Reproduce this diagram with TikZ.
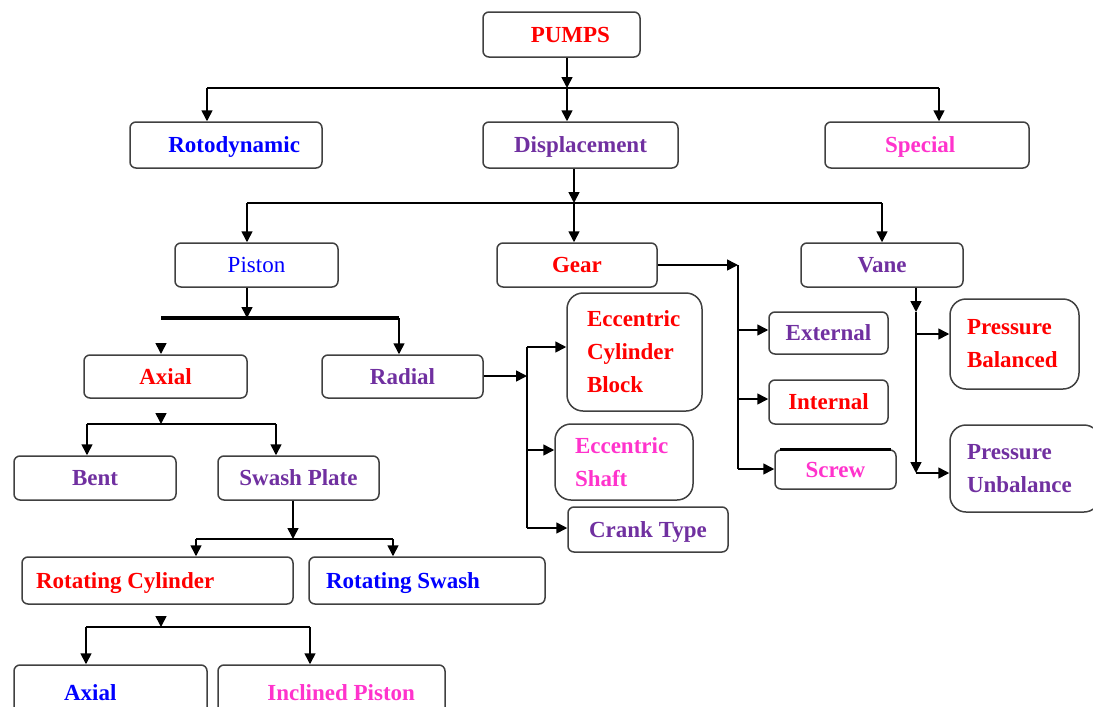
\documentclass[tikz,border=0pt]{standalone}
\usepackage{fontspec}
\setmainfont{Liberation Serif}
\usetikzlibrary{arrows.meta}
\definecolor{pumpred}{RGB}{255,0,0}
\definecolor{pumpblue}{RGB}{0,0,255}
\definecolor{pumppurple}{RGB}{112,48,160}
\definecolor{pumpmagenta}{RGB}{255,51,204}
\definecolor{boxgray}{RGB}{64,64,64}
\newcommand\lbl{\fontsize{11.5}{16.5}\selectfont\bfseries}
\tikzset{
  box/.style={draw=boxgray, line width=0.75pt, rounded corners=3pt, inner sep=0pt,
    minimum height=22pt, text depth=0pt, font=\lbl},
  tallbox/.style={box, text depth=, rounded corners=8pt, align=flush left},
  link/.style={line width=0.8pt},
  arr/.style={link, -{Triangle[length=5.5pt,width=5.5pt]}},
}
\begin{document}
\begin{tikzpicture}[x=0.5pt,y=-0.5pt]
\useasboundingbox (0,0) rectangle (1093,707);
% boxes
\node[box, text=pumpred, minimum height=22.5pt, align=flush right, inner xsep=15pt, text width=48.5pt] (pumps) at (561.5,34.5) {PUMPS};
\node[box, text=pumpblue, minimum height=23pt, align=flush right, inner xsep=11pt, text width=74pt] (roto) at (226,145) {Rotodynamic};
\node[box, text=pumppurple, minimum width=97.5pt, minimum height=23pt] (disp) at (580.5,145) {Displacement};
\node[box, text=pumpmagenta, minimum height=23pt, align=flush left, inner xsep=30pt, text width=42pt] (spec) at (927,145) {Special};
\node[box, text=pumpblue, minimum width=81.5pt, font=\fontsize{11.5}{16.5}\selectfont] (piston) at (256.5,265) {Piston};
\node[box, text=pumpred, minimum width=80pt] (gear) at (577,265) {Gear};
\node[box, text=pumppurple, minimum width=81pt] (vane) at (882,265) {Vane};
\node[box, text=pumpred, minimum width=81.5pt, minimum height=21.5pt] (axial) at (165.5,376.5) {Axial};
\node[box, text=pumppurple, minimum width=80.5pt, minimum height=21.5pt] (radial) at (402.5,376.5) {Radial};
\node[box, text=pumppurple, minimum width=81pt] (bent) at (95,478) {Bent};
\node[box, text=pumppurple, minimum width=80.5pt] (swash) at (298.5,478) {Swash Plate};
\node[box, text=pumpred, minimum height=23.5pt, align=flush left, inner xsep=7pt, text width=121.5pt] (rotcyl) at (157.5,580.5) {Rotating Cylinder};
\node[box, text=pumpblue, minimum height=23.5pt, align=flush left, inner xsep=8.5pt, text width=101pt] (rotsw) at (427,580.5) {Rotating Swash};
\node[box, text=pumpblue, minimum height=27.5pt, align=flush left, inner xsep=25pt, text width=46.5pt] (axialb) at (110.5,692.5) {Axial};
\node[box, text=pumpmagenta, minimum height=27.5pt, align=flush right, inner xsep=15pt, text width=83.5pt] (incl) at (331.5,692.5) {Inclined Piston};
\node[tallbox, text=pumpred, minimum height=59pt, inner xsep=10pt, text width=47.5pt] (ecb) at (634.5,352) {Eccentric\\Cylinder\\Block};
\node[tallbox, text=pumpmagenta, minimum height=38pt, inner xsep=10pt, text width=49pt] (ecs) at (624,462) {Eccentric\\Shaft};
\node[box, text=pumppurple, minimum width=80pt, minimum height=22.5pt] (crank) at (648,529.5) {Crank Type};
\node[box, text=pumppurple, minimum width=59.5pt, minimum height=21pt] (ext) at (828.5,333) {External};
\node[box, text=pumpred, minimum width=59.5pt] (int) at (828.5,402) {Internal};
\node[box, text=pumpmagenta, minimum width=60.5pt, minimum height=19.5pt] (screw) at (835.5,469.5) {Screw};
\draw[line width=1.6pt] ([xshift=3pt,yshift=-0.3pt]screw.north west) -- ([xshift=-3pt,yshift=-0.3pt]screw.north east);
\node[tallbox, text=pumpred, minimum height=45pt, inner xsep=8.5pt, text width=47.5pt] (pb) at (1014.5,344) {Pressure\\Balanced};
\node[tallbox, text=pumppurple, minimum height=43.5pt, inner xsep=8.5pt, text width=58pt] (pu) at (1025,468.5) {Pressure\\Unbalance};
% joints
\coordinate (j0) at (567,88);
\coordinate (j0a) at (207,88);
\coordinate (j0b) at (939,88);
\coordinate (j1) at (574,203);
\coordinate (j1a) at (247,203);
\coordinate (j1b) at (882,203);
\coordinate (j2) at (247,318);
\coordinate (j2a) at (161,318);
\coordinate (j2b) at (399,318);
\coordinate (axtip) at (161,354);
\coordinate (j3) at (161,424);
\coordinate (j3a) at (87,424);
\coordinate (j3b) at (276,424);
\coordinate (j4) at (293,539);
\coordinate (j4a) at (196,539);
\coordinate (j4b) at (393,539);
\coordinate (j5) at (161,627);
\coordinate (j5a) at (86,627);
\coordinate (j5b) at (310,627);
\coordinate (j6) at (527,376);
\coordinate (j6a) at (527,347);
\coordinate (j6c) at (527,450);
\coordinate (j6b) at (527,528);
\coordinate (j7) at (738,265);
\coordinate (j7a) at (738,330);
\coordinate (j7c) at (738,399);
\coordinate (j7b) at (738,469);
\coordinate (j8) at (916,312);
\coordinate (j8a) at (916,334);
\coordinate (j8b) at (916,473);
% connectors
\draw[arr] (pumps.south -| j0) -- (j0);
\draw[link] (j0a) -- (j0b);
\draw[arr] (j0a) -- (roto.north -| j0a);
\draw[arr] (j0) -- (disp.north -| j0);
\draw[arr] (j0b) -- (spec.north -| j0b);
\draw[arr] (disp.south -| j1) -- (j1);
\draw[link] (j1a) -- (j1b);
\draw[arr] (j1a) -- (piston.north -| j1a);
\draw[arr] (j1) -- (gear.north -| j1);
\draw[arr] (j1b) -- (vane.north -| j1b);
\draw[arr] (piston.south -| j2) -- (j2);
\draw[line width=1.7pt] (j2a) -- (j2b);
\draw[arr] (j2b) -- (radial.north -| j2b);
\draw[arr] ([yshift=5.5pt]axtip) -- (axtip);
\draw[arr] ([yshift=5.5pt]j3) -- (j3);
\draw[link] (j3a) -- (j3b);
\draw[arr] (j3a) -- (bent.north -| j3a);
\draw[arr] (j3b) -- (swash.north -| j3b);
\draw[arr] (swash.south -| j4) -- (j4);
\draw[link] (j4a) -- (j4b);
\draw[arr] (j4a) -- (rotcyl.north -| j4a);
\draw[arr] (j4b) -- (rotsw.north -| j4b);
\draw[arr] ([yshift=4.5pt]j5) -- (j5);
\draw[link] (j5a) -- (j5b);
\draw[arr] (j5a) -- (axialb.north -| j5a);
\draw[arr] (j5b) -- (incl.north -| j5b);
\draw[arr] (radial.east |- j6) -- (j6);
\draw[link] (j6a) -- (j6b);
\draw[arr] (j6a) -- (ecb.west |- j6a);
\draw[arr] (j6c) -- (ecs.west |- j6c);
\draw[arr] (j6b) -- (crank.west |- j6b);
\draw[arr] (gear.east) -- (j7);
\draw[link] (j7) -- (j7b);
\draw[arr] (j7a) -- (ext.west |- j7a);
\draw[arr] (j7c) -- (int.west |- j7c);
\draw[arr] (j7b) -- (screw.west |- j7b);
\draw[arr] (vane.south -| j8) -- (j8);
\draw[arr] (j8) -- (j8b);
\draw[arr] (j8a) -- (pb.west |- j8a);
\draw[arr] (j8b) -- (pu.west |- j8b);
\end{tikzpicture}
\end{document}
